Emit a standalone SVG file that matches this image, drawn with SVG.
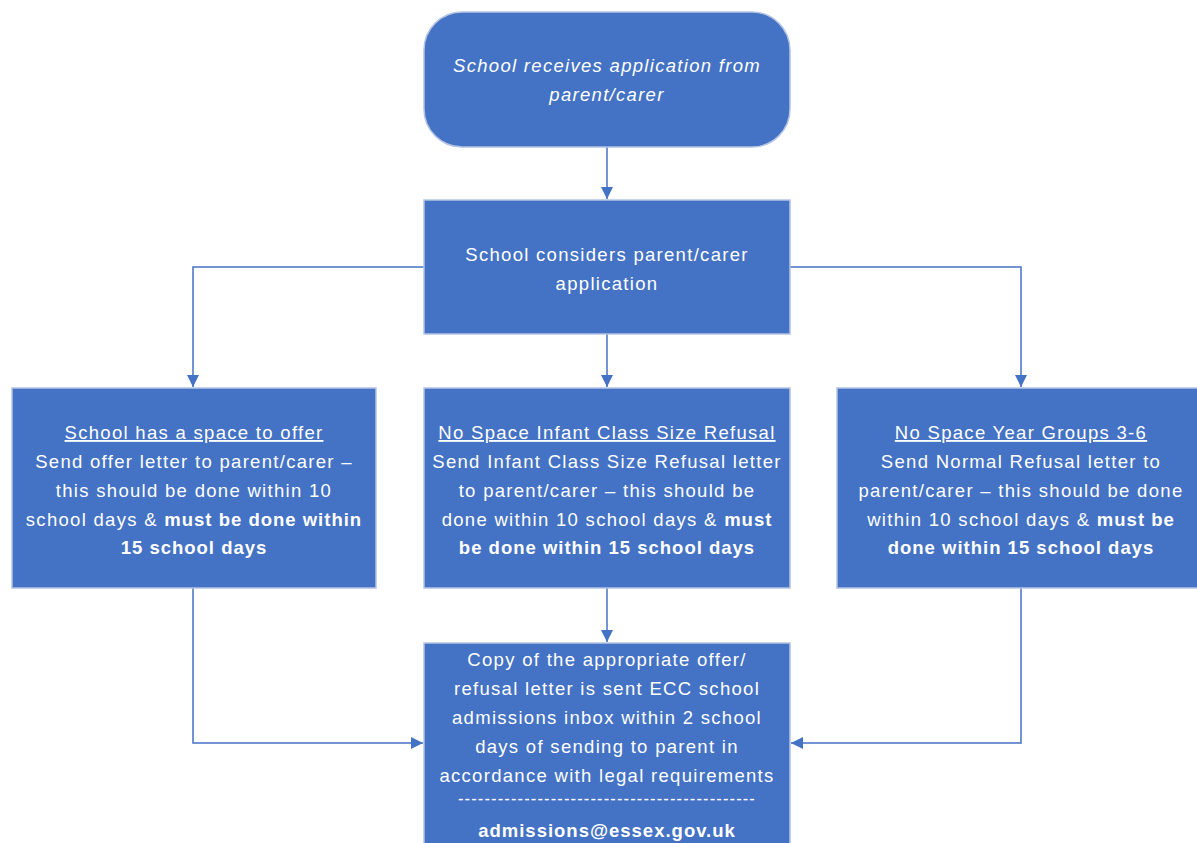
<svg xmlns="http://www.w3.org/2000/svg" width="1197" height="843" viewBox="0 0 1197 843">
<defs>
<style>
.box{fill:#4472C4;stroke:#b4c4e4;stroke-width:1.5}
.t{font-family:"Liberation Sans",Arial,sans-serif;font-size:18.5px;fill:#ffffff;text-anchor:middle;letter-spacing:1.3px}
.b{font-weight:bold;letter-spacing:1px}
.u{text-decoration:underline}
.i{font-style:italic}
.c{fill:none;stroke:#4472C4;stroke-width:1.5}
</style>
<marker id="ah" viewBox="0 0 12 14" refX="12" refY="7" markerWidth="12" markerHeight="14" markerUnits="userSpaceOnUse" orient="auto">
<path d="M0,1 L12,7 L0,13 Z" fill="#4472C4"/>
</marker>
</defs>
<rect width="1197" height="843" fill="#ffffff"/>
<g id="connectors">
<path class="c" d="M607,147 V199" marker-end="url(#ah)"/>
<path class="c" d="M607,334 V387" marker-end="url(#ah)"/>
<path class="c" d="M424,267 H193 V387" marker-end="url(#ah)"/>
<path class="c" d="M790,267 H1021 V387" marker-end="url(#ah)"/>
<path class="c" d="M607,588 V642" marker-end="url(#ah)"/>
<path class="c" d="M193,588 V743 H423" marker-end="url(#ah)"/>
<path class="c" d="M1021,588 V743 H791" marker-end="url(#ah)"/>
</g>
<g id="n1">
<rect class="box" x="424" y="12" width="366" height="135" rx="38"/>
<text class="t i" x="607" y="72">School receives application from</text>
<text class="t i" x="607" y="101">parent/carer</text>
</g>
<g id="n2">
<rect class="box" x="424" y="200" width="366" height="134"/>
<text class="t" x="607" y="261">School considers parent/carer</text>
<text class="t" x="607" y="290">application</text>
</g>
<g id="n3">
<rect class="box" x="12" y="388" width="364" height="200"/>
<text class="t u" x="194" y="439">School has a space to offer</text>
<text class="t" x="194" y="468">Send offer letter to parent/carer –</text>
<text class="t" x="194" y="497">this should be done within 10</text>
<text class="t" x="194" y="526">school days &amp; <tspan class="b">must be done within</tspan></text>
<text class="t b" x="194" y="554">15 school days</text>
</g>
<g id="n4">
<rect class="box" x="424" y="388" width="366" height="200"/>
<text class="t u" x="607" y="439">No Space Infant Class Size Refusal</text>
<text class="t" x="607" y="468">Send Infant Class Size Refusal letter</text>
<text class="t" x="607" y="497">to parent/carer – this should be</text>
<text class="t" x="607" y="526">done within 10 school days &amp; <tspan class="b">must</tspan></text>
<text class="t b" x="607" y="554">be done within 15 school days</text>
</g>
<g id="n5">
<rect class="box" x="837" y="388" width="364" height="200"/>
<text class="t u" x="1021" y="439">No Space Year Groups 3-6</text>
<text class="t" x="1021" y="468">Send Normal Refusal letter to</text>
<text class="t" x="1021" y="497">parent/carer – this should be done</text>
<text class="t" x="1021" y="526">within 10 school days &amp; <tspan class="b">must be</tspan></text>
<text class="t b" x="1021" y="554">done within 15 school days</text>
</g>
<g id="n6">
<rect class="box" x="424" y="643" width="366" height="210"/>
<text class="t" x="607" y="666">Copy of the appropriate offer/</text>
<text class="t" x="607" y="695">refusal letter is sent ECC school</text>
<text class="t" x="607" y="724">admissions inbox within 2 school</text>
<text class="t" x="607" y="753">days of sending to parent in</text>
<text class="t" x="607" y="782">accordance with legal requirements</text>
<text class="t" x="607" y="805" textLength="298" lengthAdjust="spacingAndGlyphs">---------------------------------------------</text>
<text class="t b" x="607" y="837">admissions@essex.gov.uk</text>
</g>
</svg>
